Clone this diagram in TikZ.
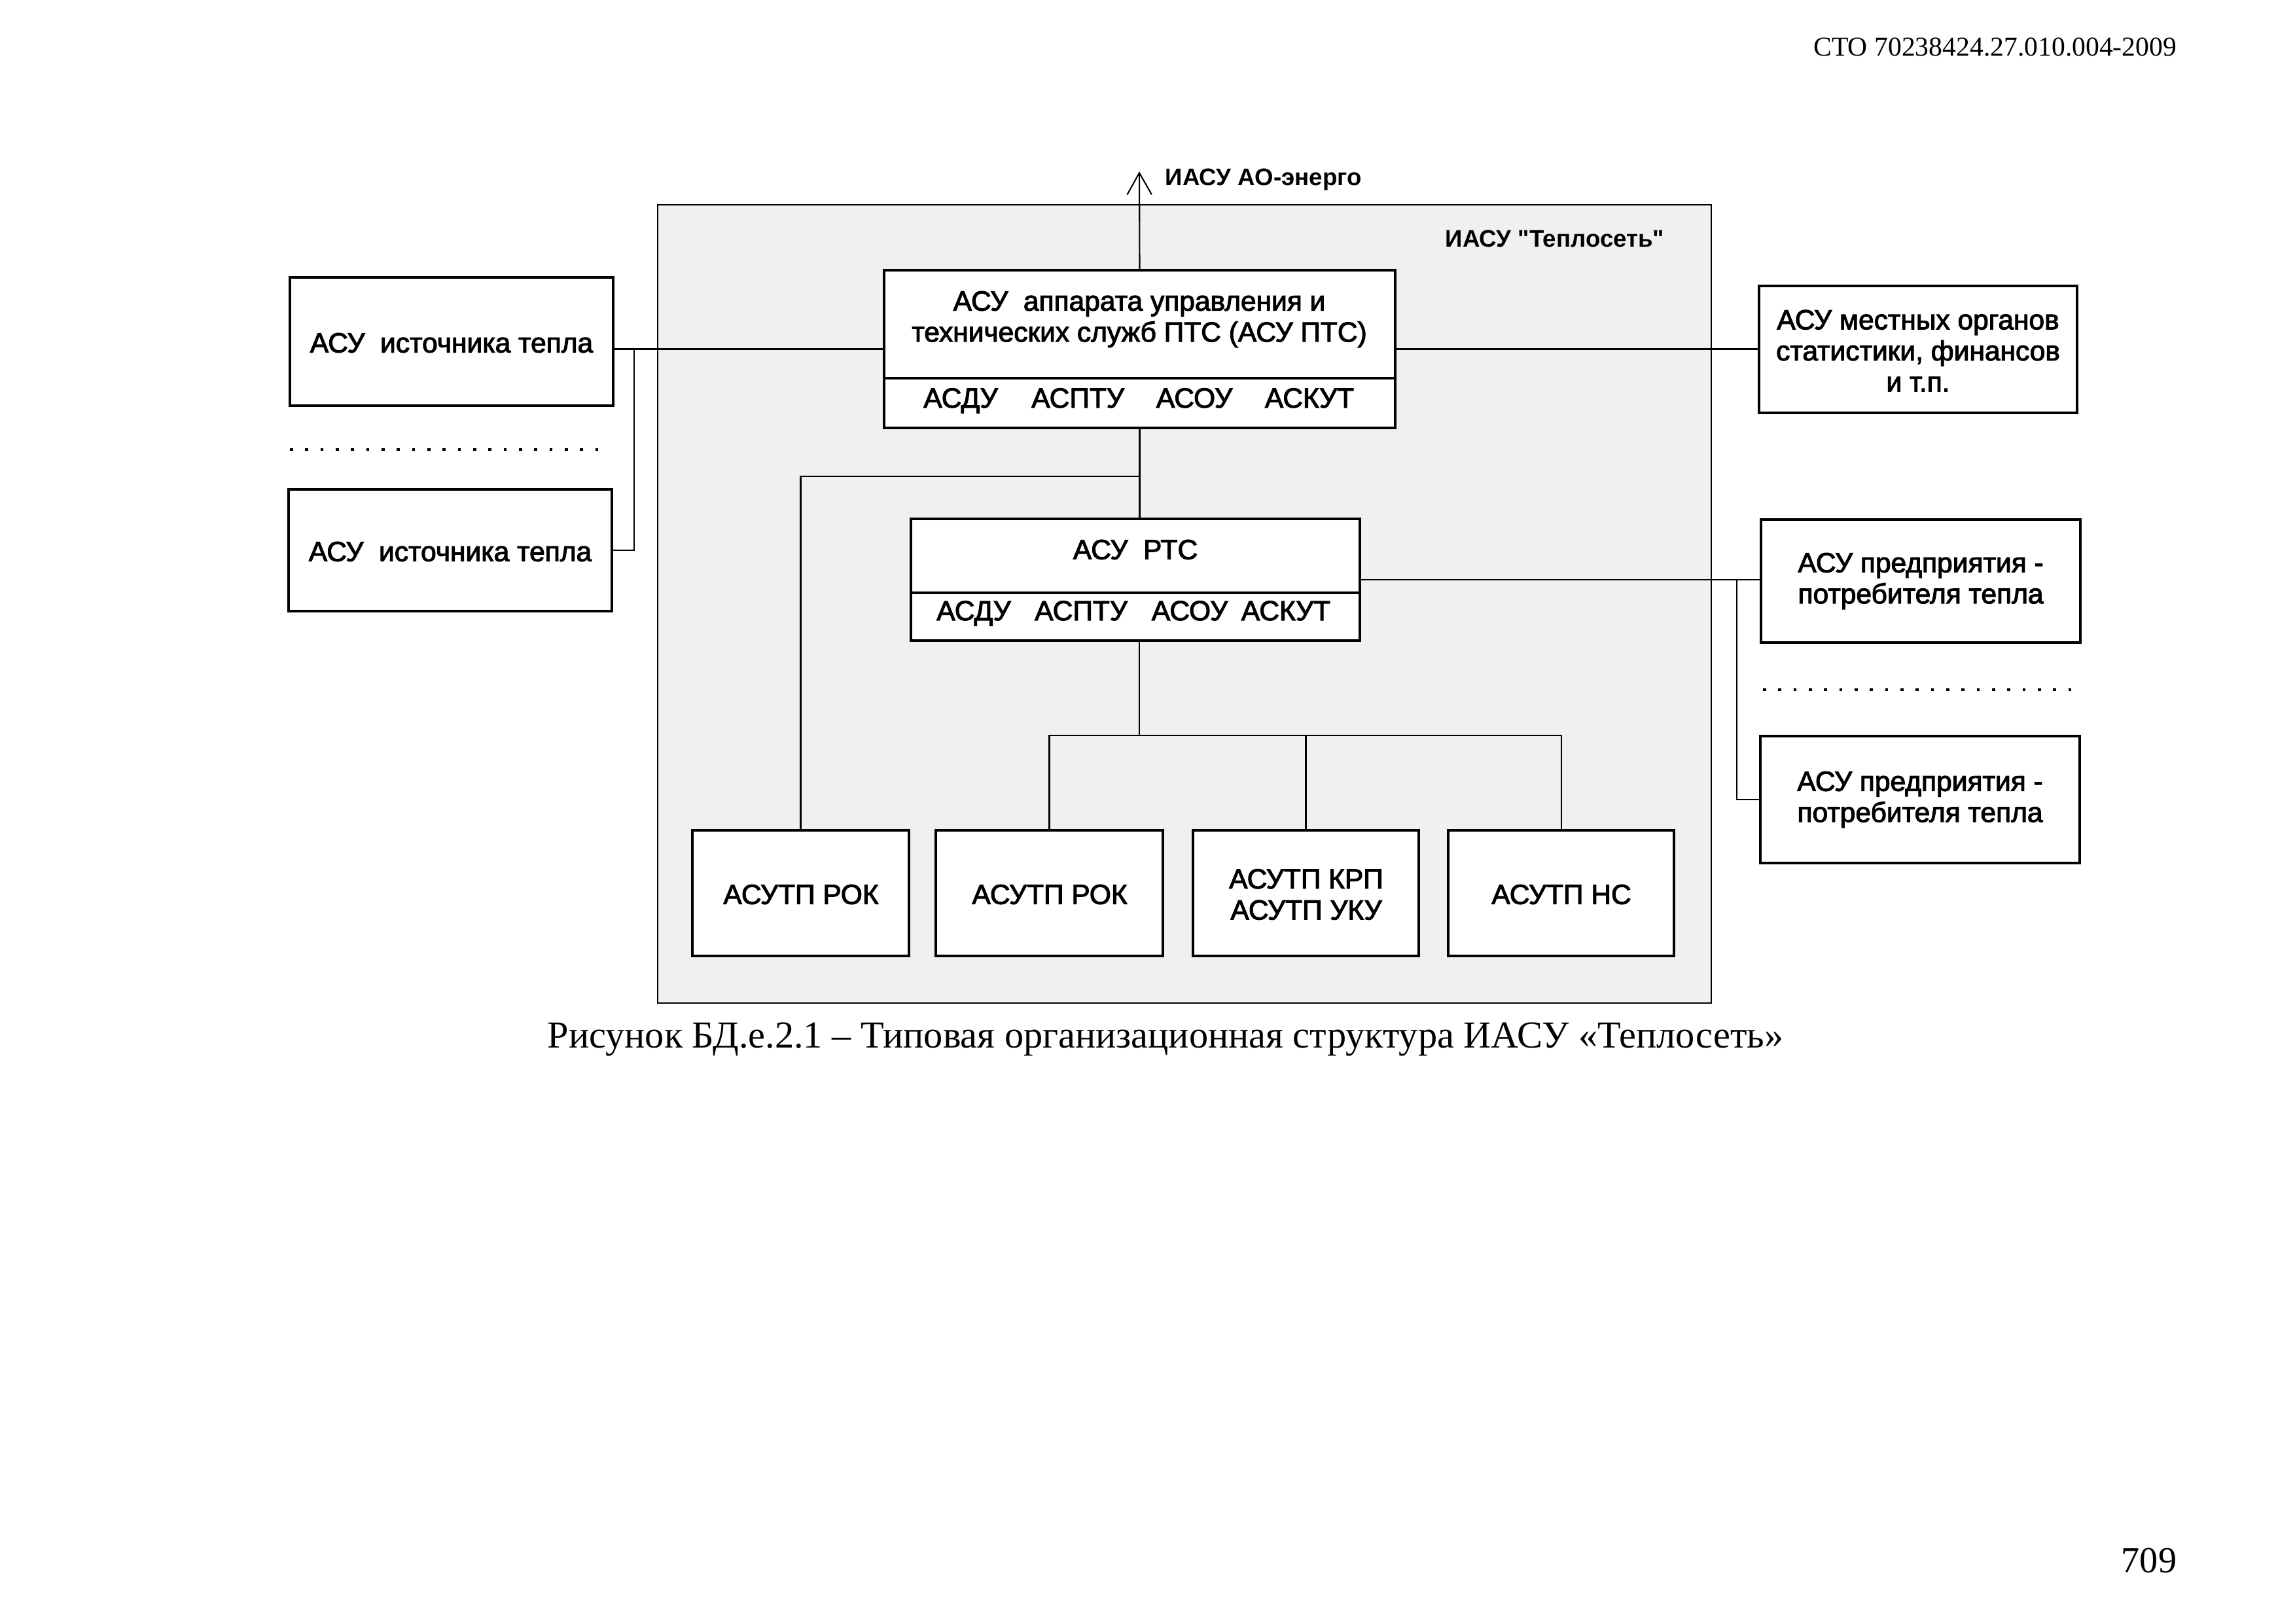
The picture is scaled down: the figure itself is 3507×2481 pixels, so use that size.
\documentclass[tikz,border=0pt]{standalone}
\usepackage{fontspec}
\setmainfont{Liberation Serif}
\newfontfamily\boxfont{Liberation Sans}[FakeBold=2.5]
\newfontfamily\lblfont{Liberation Sans}
\usetikzlibrary{arrows.meta,fit}
\begin{document}
\begin{tikzpicture}[x=0.24pt,y=-0.24pt,
  box/.style={draw,line width=1pt,fill=white,inner sep=0pt},
  txt/.style={font=\boxfont\fontsize{10.2}{11.4}\selectfont,align=center,inner sep=0pt},
  sub/.style={font=\boxfont\fontsize{10.2}{11.4}\selectfont,inner sep=0pt,anchor=base},
  lbl/.style={font=\lblfont\bfseries\fontsize{8.8}{10}\selectfont,inner sep=0pt},
  conn/.style={line width=0.5pt},
  dotline/.style={line width=1.1pt,dash pattern=on 1.1pt off 4.5pt},
]
\useasboundingbox (0,0) rectangle (3507,2481);

% outer frame
\node[fit={(1005,313) (2615,1533)},draw,line width=0.5pt,fill=black!6,inner sep=0pt] (frame) {};
\node[lbl] (framelbl) at (2376,365) {ИАСУ "Теплосеть"};

% boxes
\node[box,fit={(1351,413) (2132,654)}] (ptc) {};
\node[box,fit={(1392,793) (2078,979)}] (rtc) {};
\node[box,fit={(443,424) (937,620)}] (b1) {};
\node[box,fit={(441,748) (935,934)}] (b2) {};
\node[box,fit={(2688,437) (3174,631)}] (r1) {};
\node[box,fit={(2691,794) (3179,982)}] (r2) {};
\node[box,fit={(2690,1125) (3178,1319)}] (r3) {};
\node[box,fit={(1058,1269) (1389,1461)}] (k1) {};
\node[box,fit={(1430,1269) (1777,1461)}] (k2) {};
\node[box,fit={(1823,1269) (2168,1461)}] (k3) {};
\node[box,fit={(2213,1269) (2558,1461)}] (k4) {};

% box texts
\node[txt] (b1t) at (690,524) {АСУ\ \ источника тепла};
\node[txt] (b2t) at (688,843) {АСУ\ \ источника тепла};
\node[txt] (r1t) at (2931,536) {АСУ местных органов\\статистики, финансов\\и т.п.};
\node[txt] (r2t) at (2935,888) {АСУ предприятия -\\потребителя тепла};
\node[txt] (r3t) at (2934,1222) {АСУ предприятия -\\потребителя тепла};
\node[txt] (k1t) at (1224,1367) {АСУТП РОК};
\node[txt] (k2t) at (1604,1367) {АСУТП РОК};
\node[txt] (k3t) at (1996,1367) {АСУТП КРП\\АСУТП УКУ};
\node[txt] (k4t) at (2386,1367) {АСУТП НС};

% dividers and texts in PTC / RTC
\draw[line width=1pt] (ptc.west |- 0,578) -- (ptc.east |- 0,578);
\draw[line width=1pt] (rtc.west |- 0,906) -- (rtc.east |- 0,906);
\node[txt] (ptctxt) at (1741,488) {АСУ\ \ аппарата управления и\\технических служб ПТС (АСУ ПТС)};
\node[sub] (p1) at (1468,623) {АСДУ};
\node[sub] (p2) at (1647,623) {АСПТУ};
\node[sub] (p3) at (1825,623) {АСОУ};
\node[sub] (p4) at (2001,623) {АСКУТ};
\node[txt] (rtctxt) at (1735,840) {АСУ\ \ РТС};
\node[sub] (s1) at (1488,948) {АСДУ};
\node[sub] (s2) at (1652,948) {АСПТУ};
\node[sub] (s3) at (1818,948) {АСОУ};
\node[sub] (s4) at (1965,948) {АСКУТ};

% arrow to IASU AO-energo
\coordinate (up) at (1741,262);
\draw[conn,-{Straight Barb[length=8pt,width=9pt,line width=0.5pt]}] (ptc.north) -- (up);
\node[lbl,anchor=west] (aolbl) at (1780,274) {ИАСУ АО-энерго};

% connectors
\draw[conn] (ptc.west) -- (ptc.west -| b1.east);
\coordinate (lj) at (969,533);
\draw[conn] (lj) |- (b2.east);
\draw[conn] (ptc.east) -- (ptc.east -| r1.west);
\draw[conn] (ptc.south) -- (ptc.south |- rtc.north);
\coordinate (hj) at (1741,728);
\draw[conn] (hj) -| (k1.north);
\draw[conn] (rtc.east) -- (rtc.east -| r2.west);
\coordinate (rj) at (2654,886);
\draw[conn] (rj) |- (r3.west);
\coordinate (bj) at (1741,1124);
\draw[conn] (rtc.south -| bj) -- (bj);
\draw[conn] (k2.north) |- (k4.north |- bj) -- (k4.north);
\draw[conn] (k3.north) -- (k3.north |- bj);

% dotted separators
\draw[dotline] (443,687) -- (927,687);
\draw[dotline] (2694,1054) -- (3165,1054);

% page texts
\node[anchor=east,inner sep=0pt,font=\fontsize{10}{12}\selectfont] (hdr) at (3327,72) {СТО 70238424.27.010.004-2009};
\node[anchor=east,inner sep=0pt,font=\fontsize{13.5}{16}\selectfont] (pg) at (3327,2385) {709};
\node[inner sep=0pt,font=\fontsize{14}{17}\selectfont] (cap) at (1781,1588) {Рисунок БД.е.2.1 – Типовая организационная структура ИАСУ «Теплосеть»};
\end{tikzpicture}
\end{document}
